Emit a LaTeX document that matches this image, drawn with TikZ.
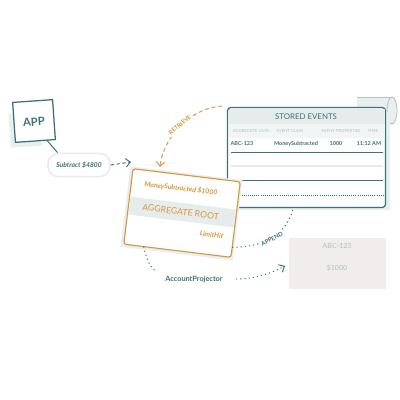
\documentclass[tikz,border=0pt]{standalone}
\usepackage{fontspec}
\setmainfont{Lato}
\usetikzlibrary{arrows.meta,calc}
\definecolor{ink}{HTML}{3E7176}
\definecolor{amber}{HTML}{D8963E}
\definecolor{haze}{HTML}{E9EEEE}
\definecolor{band}{HTML}{E6ECEC}
\definecolor{faint}{HTML}{B3C1C1}
\definecolor{rose}{HTML}{F2EDED}
\newcommand{\fsz}[1]{\fontsize{#1}{#1}\selectfont}
\begin{document}
\begin{tikzpicture}[x=0.25mm,y=-0.25mm,
  txt/.style={inner sep=0pt, outer sep=0pt},
  appbox/.style={draw=ink, line width=0.9pt, fill=white, minimum width=10mm, minimum height=10mm, inner sep=0pt},
  pillbox/.style={draw=band, line width=1.1pt, fill=white, rounded corners=2.6mm, minimum width=15.5mm, minimum height=5.8mm, inner sep=0pt},
  aggbox/.style={draw=amber, line width=0.8pt, fill=white, rounded corners=0.6mm, minimum width=27mm, minimum height=19mm, inner sep=0pt},
  tablebox/.style={draw=ink, line width=0.9pt, fill=white, rounded corners=0.8mm, minimum width=39.5mm, minimum height=25mm, inner sep=0pt},
  flow/.style={ink, line width=0.7pt, dash pattern=on 2.2pt off 2pt},
  dotflow/.style={ink, line width=0.7pt, dash pattern=on 0.8pt off 2.2pt},
  tip/.style={-{Straight Barb[length=3.2pt, width=6pt, line width=0.7pt]}},
  pathlbl/.style={inner sep=1pt, outer sep=0pt, fill=white, font=\bfseries\fsz{4.2}},
]
\useasboundingbox (0,0) rectangle (400,400);
\fill[white] (0,0) rectangle (400,400);

% rolled scroll behind the event table
\fill[haze] (357,97) rectangle (392,124);
\filldraw[draw=faint, line width=0.6pt, fill=haze] (392,110.5) ellipse [x radius=5, y radius=13.5];
\draw[faint, line width=0.6pt] (357,97) -- (392,97);

% event table
\fill[haze] (232,112) rectangle (390,210);
\node[tablebox] (tbl) at (306.5,157.5) {};
\fill[band] (229,109) rectangle (384.5,124);
\fill[band!55] (229,124) rectangle (384.5,138);
\node[txt, ink, font=\fsz{5.6}] (tbltitle) at (306,116.5) {STORED EVENTS};
\begin{scope}[every node/.style={txt, faint, font=\fsz{3}}]
  \node (h1) at (251,131) {AGGREGATE UUID};
  \node (h2) at (290,131) {EVENT CLASS};
  \node (h3) at (341,131) {EVENT PROPERTIES};
  \node (h4) at (373,131) {TIME};
\end{scope}
\begin{scope}[every node/.style={txt, ink, font=\bfseries\fsz{3.9}}]
  \node (c1) at (242,144) {ABC-123};
  \node (c2) at (296,144) {MoneySubtracted};
  \node (c3) at (336,144) {1000};
  \node (c4) at (369,144) {11:12 AM};
\end{scope}
\draw[ink, line width=0.6pt] (231,152) -- (383,152);
\draw[band, line width=0.8pt] (231,166) -- (383,166);
\draw[ink, line width=0.6pt] (231,180) -- (383,180);
\draw[ink, line width=0.5pt, dash pattern=on 0.6pt off 0.9pt] (231,195) -- (383,195);

% client application
\fill[haze, rotate around={4:(34,121)}] (9,112) rectangle (40,146);
\node[appbox, rotate=4] (app) at (34,121) {};
\node[txt, ink, font=\bfseries\fsz{8}, rotate=4] (applbl) at (34,122) {APP};

% command pill
\node[pillbox] (pill) at (79,165) {};
\node[txt, ink, font=\bfseries\itshape\fsz{4.8}] (pilllbl) at (79,165) {Subtract \$4800};
\draw[ink, line width=0.7pt] (app.-60) -- (pill.150);

% aggregate root card
\begin{scope}[shift={(182,213)}, rotate=-7]
  \fill[haze] (-57,-40) rectangle (56,41);
  \node[aggbox, transform shape] (agg) at (0,0) {};
  \fill[band] (-53,-10) rectangle (53,8);
  \node[txt, transform shape, amber, font=\bfseries\itshape\fsz{4.9}] (evt) at (-4,-24) {MoneySubtracted \$1000};
  \node[txt, transform shape, amber, font=\fsz{6.2}] (aggtitle) at (-1.5,-1) {AGGREGATE ROOT};
  \node[txt, transform shape, amber, font=\bfseries\itshape\fsz{4.9}] (limit) at (32,18) {LimitHit};
  \coordinate (aggbl) at (-34,38);
  \coordinate (aggbr) at (54,28);
\end{scope}

% command into the aggregate
\coordinate (cmdend) at (131,162);
\draw[flow, tip] (pill.east) -- (cmdend);

% history read back from the store
\coordinate (readstart) at (222,106);
\coordinate (readend) at (160,167);
\draw[amber, line width=0.7pt, dash pattern=on 2.6pt off 2.2pt, tip]
  (readstart) .. controls (190,108) and (163,138) .. (readend);
\node[pathlbl, text=amber, rotate=40] (readlbl) at (180,125) {RETRIEVE};

% new events appended to the store
\coordinate (appendend) at (293,209);
\draw[dotflow] (aggbr) .. controls (268,247) and (287,232) .. (appendend);
\node[pathlbl, text=ink, rotate=30] (appendlbl) at (272,239) {APPEND};

% projection of the account
\node[txt, ink, font=\bfseries\fsz{5.2}] (proj) at (194,279) {AccountProjector};
\coordinate (projin) at (157,272);
\draw[dotflow] (aggbl) .. controls (146,256) and (148,266) .. (projin);
\fill[rose] (289,238) rectangle (386,289);
\node[txt, faint!80!rose, font=\bfseries\fsz{5}] (view1) at (337,246) {ABC-123};
\node[txt, faint!80!rose, font=\bfseries\fsz{5}] (view2) at (337,268) {\$1000};
\coordinate (projout) at (236,279);
\coordinate (viewin) at (285,266);
\draw[dotflow, tip] (projout) .. controls (255,279) and (272,273) .. (viewin);
\end{tikzpicture}
\end{document}
